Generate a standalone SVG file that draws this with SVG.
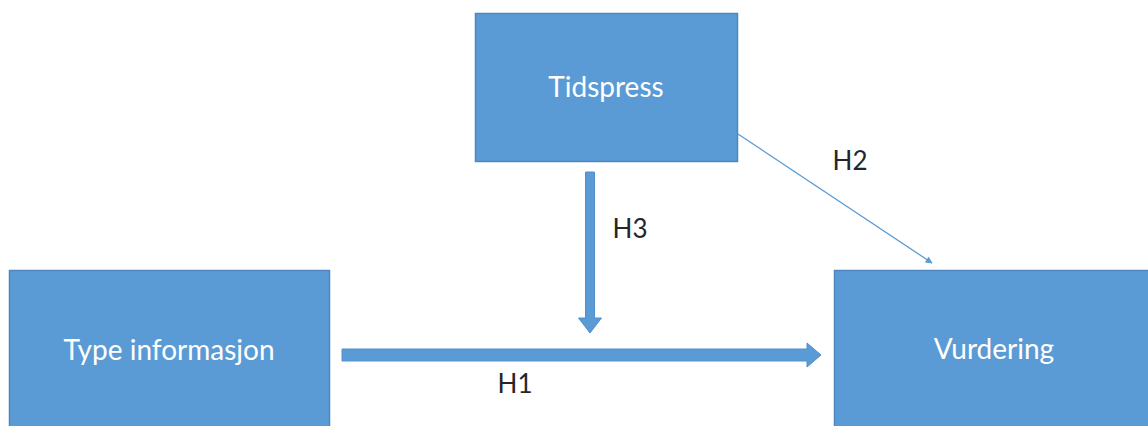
<svg xmlns="http://www.w3.org/2000/svg" width="1148" height="426" viewBox="0 0 1148 426">
<style>
.box{fill:#5B9BD5;stroke:#4F86BE;stroke-width:1.5}
.lbl{font-family:Lato,"Open Sans",sans-serif;font-size:28px;fill:#FFFFFF;text-anchor:middle}
.h{font-family:Lato,"Open Sans",sans-serif;font-size:26px;fill:#262626;text-anchor:middle}
.fat{fill:#5B9BD5;stroke:#5290CC;stroke-width:1}
</style>
<defs>
<marker id="ah" viewBox="0 0 10 10" refX="9" refY="5" markerWidth="7" markerHeight="7" orient="auto" markerUnits="userSpaceOnUse">
<path d="M0,0 L10,5 L0,10 z" fill="#5B9BD5"/>
</marker>
</defs>
<g id="node-tidspress">
<rect class="box" x="475.5" y="13.5" width="262" height="148"/>
<text class="lbl" x="606" y="97">Tidspress</text>
</g>
<g id="node-type">
<rect class="box" x="9.5" y="270.5" width="320" height="170"/>
<text class="lbl" x="169" y="360">Type informasjon</text>
</g>
<g id="node-vurdering">
<rect class="box" x="834.5" y="270.5" width="330" height="170"/>
<text class="lbl" x="994" y="359">Vurdering</text>
</g>
<g id="connectors">
<path class="fat" d="M585.5,172 L594.5,172 L594.5,318 L601.5,318 L590,333 L578.5,318 L585.5,318 Z"/>
<path class="fat" d="M342,349 L807,349 L807,343 L821,355 L807,367 L807,361 L342,361 Z"/>
<line x1="738" y1="134" x2="932" y2="263" stroke="#5B9BD5" stroke-width="1.3" marker-end="url(#ah)"/>
<text class="h" x="515" y="393">H1</text>
<text class="h" x="850" y="170">H2</text>
<text class="h" x="630" y="238">H3</text>
</g>
</svg>
